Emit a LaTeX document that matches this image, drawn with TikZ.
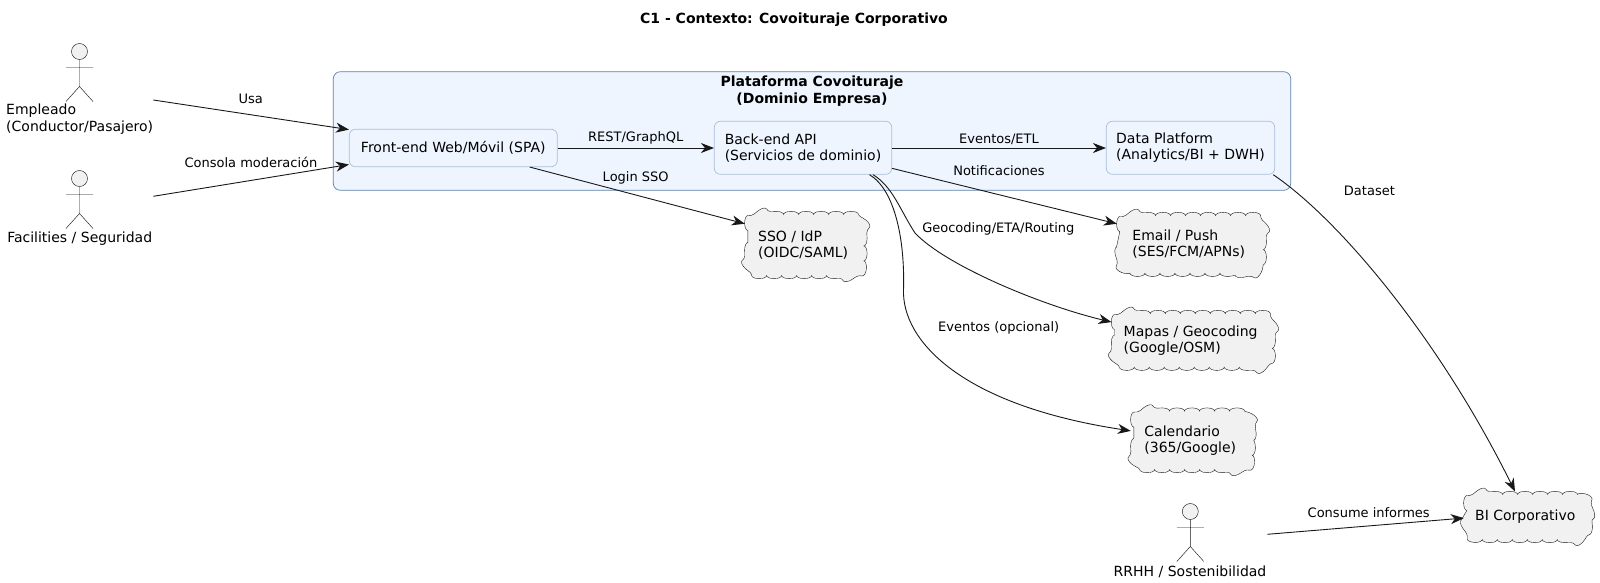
\documentclass[tikz,border=0pt]{standalone}
\usepackage{fontspec}
\setmainfont{DejaVu Sans}
\usetikzlibrary{arrows.meta, backgrounds, calc, decorations.pathmorphing}
\definecolor{groupfill}{HTML}{EEF5FF}
\definecolor{groupline}{HTML}{5F80A8}
\definecolor{boxline}{HTML}{A9BFD8}
\definecolor{cloudfill}{HTML}{F1F1F1}
\definecolor{ink}{HTML}{181818}
\tikzset{
  txt/.style={font=\fontsize{14}{16.3}\selectfont, text=black, inner sep=0pt, align=left},
  flowlabel/.style={font=\fontsize{13}{15}\selectfont, text=black, inner sep=0pt},
  flow/.style={draw=ink, line width=.9pt, -{Stealth[length=13pt,width=10pt,inset=4pt]}},
  service/.style={txt, draw=boxline, fill=groupfill, rounded corners=6pt, line width=.7pt},
  extern/.style={txt},
  cloudline/.style={draw=ink, fill=cloudfill, line width=.4pt, decorate,
    decoration={bumps, segment length=30pt, amplitude=3.2pt}},
  actorfig/.pic={
    \draw[ink, line width=.45pt, fill=cloudfill] (0,8) circle (8);
    \draw[ink, line width=.45pt] (0,16) -- (0,43) -- (-13.5,58) (0,43) -- (13.5,58) (-13.5,24) -- (13.5,24);
  }
}
\begin{document}
\begin{tikzpicture}[x=1pt, y=-1pt]
\useasboundingbox (0,0) rectangle (1600,583);
\node[txt, font=\fontsize{14}{16.3}\selectfont\bfseries] (title) at (794,20) {C1 - Contexto: Covoituraje Corporativo};
% group
\node[draw=groupline, fill=groupfill, rounded corners=7pt, line width=.7pt, minimum width=957.4pt, minimum height=118.6pt, inner sep=0pt] (platform) at (812,131) {};
\node[txt, align=center, font=\fontsize{14}{16.3}\selectfont\bfseries] (platformtitle) at (812,91) {Plataforma Covoituraje\\(Dominio Empresa)};
\node[service, minimum width=208pt, minimum height=37.4pt] (front) at (453.3,148) {Front-end Web/Móvil (SPA)};
\node[service, minimum width=177.4pt, minimum height=53pt] (back) at (803,147.8) {Back-end API\\(Servicios de dominio)};
\node[service, minimum width=168.4pt, minimum height=53pt] (data) at (1190.5,147.8) {Data Platform\\(Analytics/BI + DWH)};
% clouds
\node[extern, minimum width=116.3pt, minimum height=66.6pt] (sso) at (803.15,245) {SSO / IdP\\(OIDC/SAML)};
\node[extern, minimum width=143.6pt, minimum height=63.3pt] (email) at (1188.8,244.4) {Email / Push\\(SES/FCM/APNs)};
\node[extern, minimum width=157.9pt, minimum height=59.3pt] (mapas) at (1190.65,340.35) {Mapas / Geocoding\\(Google/OSM)};
\node[extern, minimum width=118.6pt, minimum height=64pt] (calendario) at (1190.3,440.3) {Calendario\\(365/Google)};
\node[extern, minimum width=122.6pt, minimum height=50.6pt] (bi) at (1525.3,517) {BI Corporativo};
\begin{scope}[on background layer]
\foreach \nm in {sso, email, mapas, calendario, bi}
  \path[cloudline] ($(\nm.north west)+(3,19)$) .. controls ($(\nm.north west)+(3,10)$) and ($(\nm.north west)+(10,3)$) .. ($(\nm.north west)+(19,3)$)
    -- ($(\nm.north east)+(-13.6,3)$) .. controls ($(\nm.north east)+(-4.6,3)$) and ($(\nm.north east)+(2.4,10)$) .. ($(\nm.north east)+(2.4,19)$)
    -- ($(\nm.south east)+(2.4,-19)$) .. controls ($(\nm.south east)+(2.4,-10)$) and ($(\nm.south east)+(-4.6,-3)$) .. ($(\nm.south east)+(-13.6,-3)$)
    -- ($(\nm.south west)+(19,-3)$) .. controls ($(\nm.south west)+(10,-3)$) and ($(\nm.south west)+(3,-10)$) .. ($(\nm.south west)+(3,-19)$) -- cycle;
\end{scope}
% actors
\pic (empleadofig) at (79.5,43.5) {actorfig};
\pic (facilitiesfig) at (79.5,170.5) {actorfig};
\pic (rrhhfig) at (1190.3,503.5) {actorfig};
\node[txt, anchor=west] (empleado) at (6,119) {Empleado\\(Conductor/Pasajero)};
\node[txt] (facilities) at (79.7,238.5) {Facilities / Seguridad};
\node[txt] (rrhh) at (1190,571.7) {RRHH / Sostenibilidad};
\coordinate (empleadoout) at (153.3,100);
\coordinate (facilitiesout) at (153.3,196.3);
\coordinate (rrhhout) at (1267.3,534.3);
% connectors
\draw[flow] (empleadoout) -- (front.170.7) node[flowlabel] (lblusa) at (250.7,99) {Usa};
\draw[flow] (facilitiesout) -- (front.189.8) node[flowlabel] (lblconsola) at (251,162.7) {Consola moderación};
\draw[flow] (front.east) -- (front.east -| back.west) node[flowlabel] (lblrest) at (635.7,137.8) {REST/GraphQL};
\draw[flow] (front.east -| back.east) -- (front.east -| data.west) node[flowlabel] (lbletl) at (999,139.3) {Eventos/ETL};
\draw[flow] (front.-14.5) -- (sso.160.1) node[flowlabel] (lbllogin) at (635.7,177.5) {Login SSO};
\draw[flow] (back.-13.4) -- (email.164.1) node[flowlabel] (lblnotif) at (999,170.3) {Notificaciones};
\draw[flow] (back.-21.3) .. controls (893,187) and (900,210) .. (915,233) .. controls (945,265) and (1040,305) .. (mapas.167.4) node[flowlabel] (lblgeo) at (998.3,229.3) {Geocoding/ETA/Routing};
\draw[flow] (back.-22.8) .. controls (895,190) and (905,240) .. (903.5,290) .. controls (902,340) and (960,405) .. (calendario.171.75) node[flowlabel] (lblopc) at (998.7,328.3) {Eventos (opcional)};
\draw[flow] (data.-18.2) .. controls (1340,220) and (1440,340) .. (bi.112.15) node[flowlabel] (lbldataset) at (1369.4,190.8) {Dataset};
\draw[flow] (rrhhout) -- (bi.181.9) node[flowlabel] (lblconsume) at (1368.7,512.3) {Consume informes};
\end{tikzpicture}
\end{document}
